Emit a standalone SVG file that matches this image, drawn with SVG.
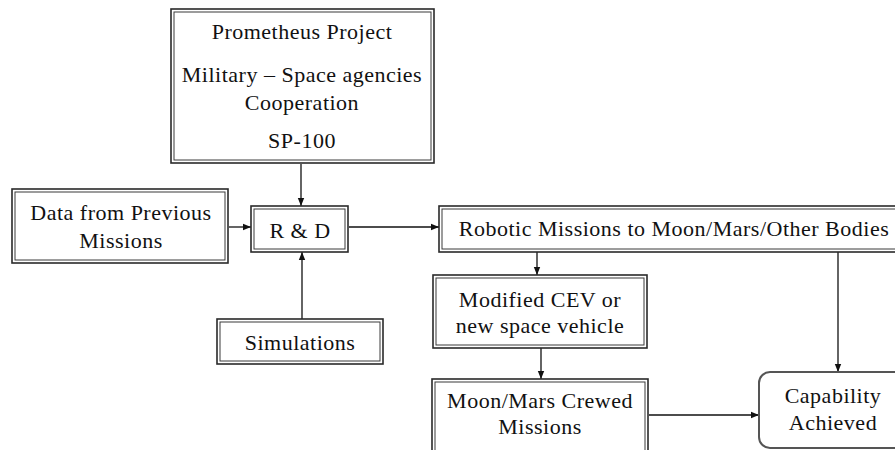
<svg xmlns="http://www.w3.org/2000/svg" width="895" height="450" viewBox="0 0 895 450">
<style>
.o{fill:#fff;stroke:#2a2a2a;stroke-width:1.6}
.i{fill:none;stroke:#3a3a3a;stroke-width:1}
.t{font-family:"Liberation Serif","Times New Roman",serif;font-size:22px;fill:#111;text-anchor:middle;letter-spacing:0.5px}
.c{fill:none;stroke:#111;stroke-width:1.3}
.r{fill:#fff;stroke:#555;stroke-width:2}
</style>
<defs>
<marker id="a" viewBox="0 0 8 8" refX="8" refY="4" markerWidth="8" markerHeight="8" markerUnits="userSpaceOnUse" orient="auto">
<path d="M0,0.8 L8,4 L0,7.2 Z" fill="#111"/>
</marker>
</defs>
<rect width="895" height="450" fill="#fff"/>
<g id="connectors">
<line class="c" x1="301" y1="164" x2="301" y2="206" marker-end="url(#a)"/>
<line class="c" x1="229" y1="227" x2="251" y2="227" marker-end="url(#a)"/>
<line class="c" x1="302" y1="319" x2="302" y2="252" marker-end="url(#a)"/>
<line class="c" x1="349" y1="227" x2="439" y2="227" marker-end="url(#a)"/>
<line class="c" x1="537" y1="252" x2="537" y2="275" marker-end="url(#a)"/>
<line class="c" x1="541" y1="348" x2="541" y2="379" marker-end="url(#a)"/>
<line class="c" x1="649" y1="415" x2="759" y2="415" marker-end="url(#a)"/>
<line class="c" x1="838" y1="252" x2="838" y2="372" marker-end="url(#a)"/>
</g>
<g id="prometheus">
<rect class="o" x="171" y="9" width="263" height="154"/>
<rect class="i" x="174" y="12" width="257" height="148"/>
<text class="t" x="302" y="39">Prometheus Project</text>
<text class="t" x="302" y="82">Military – Space agencies</text>
<text class="t" x="302" y="110">Cooperation</text>
<text class="t" x="302" y="148">SP-100</text>
</g>
<g id="data">
<rect class="o" x="12" y="189" width="216" height="74"/>
<rect class="i" x="15" y="192" width="210" height="68"/>
<text class="t" x="121" y="220">Data from Previous</text>
<text class="t" x="121" y="248">Missions</text>
</g>
<g id="rd">
<rect class="o" x="251" y="206" width="97" height="46"/>
<rect class="i" x="254" y="209" width="91" height="40"/>
<text class="t" x="300" y="238">R &amp; D</text>
</g>
<g id="simulations">
<rect class="o" x="217" y="319" width="166" height="45"/>
<rect class="i" x="220" y="322" width="160" height="39"/>
<text class="t" x="300" y="350">Simulations</text>
</g>
<g id="robotic">
<rect class="o" x="439" y="206" width="470" height="46"/>
<rect class="i" x="442" y="209" width="464" height="40"/>
<text class="t" x="674" y="236">Robotic Missions to Moon/Mars/Other Bodies</text>
</g>
<g id="cev">
<rect class="o" x="433" y="275" width="214" height="73"/>
<rect class="i" x="436" y="278" width="208" height="67"/>
<text class="t" x="540" y="307">Modified CEV or</text>
<text class="t" x="540" y="333">new space vehicle</text>
</g>
<g id="crewed">
<rect class="o" x="432" y="379" width="216" height="80"/>
<rect class="i" x="435" y="382" width="210" height="74"/>
<text class="t" x="540" y="408">Moon/Mars Crewed</text>
<text class="t" x="540" y="434">Missions</text>
</g>
<g id="capability">
<rect class="r" x="759" y="372" width="160" height="76" rx="11"/>
<text class="t" x="833" y="403">Capability</text>
<text class="t" x="833" y="430">Achieved</text>
</g>
</svg>
